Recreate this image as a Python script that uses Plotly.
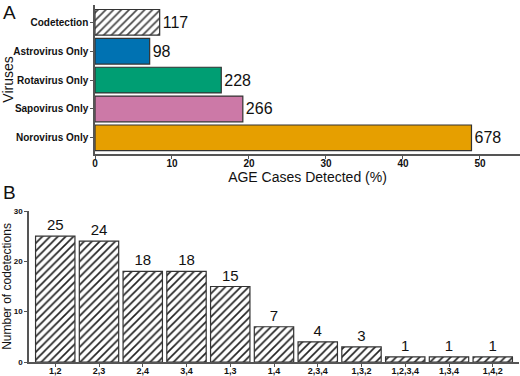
import plotly.graph_objects as go

# Panel A data (bottom to top)
virus_labels = ["Norovirus Only", "Sapovirus Only", "Rotavirus Only", "Astrovirus Only", "Codetection"]
virus_pct = [48.9, 19.2, 16.4, 7.1, 8.4]
virus_counts = [678, 266, 228, 98, 117]
virus_colors = ["#E69F00", "#CC79A7", "#009E73", "#0072B2", "#FFFFFF"]
virus_patterns = ["", "", "", "", "/"]

# Panel B data
combo_labels = ["1,2", "2,3", "2,4", "3,4", "1,3", "1,4", "2,3,4", "1,3,2", "1,2,3,4", "1,3,4", "1,4,2"]
combo_counts = [25, 24, 18, 18, 15, 7, 4, 3, 1, 1, 1]

FONT = "Liberation Sans, Arial, sans-serif"
W, H = 520, 376

fig = go.Figure()
fig.add_trace(go.Bar(
    y=virus_labels, x=virus_pct, orientation="h",
    text=[str(c) for c in virus_counts], textposition="outside",
    textfont=dict(size=16, color="#111", family=FONT),
    cliponaxis=False, width=0.89,
    marker=dict(color=virus_colors, line=dict(color="#333", width=1.2),
                pattern=dict(shape=virus_patterns, fgcolor="#222", bgcolor="white", fgopacity=1,
                             size=5.5, solidity=0.3)),
    xaxis="x", yaxis="y", showlegend=False,
))
fig.add_trace(go.Bar(
    x=combo_labels, y=combo_counts,
    text=[str(c) for c in combo_counts], textposition="outside",
    textfont=dict(size=15, color="#111", family=FONT),
    cliponaxis=False, width=0.9,
    marker=dict(color="white", line=dict(color="#333", width=1.2),
                pattern=dict(shape="/", fgcolor="#222", bgcolor="white", fgopacity=1,
                             size=5.5, solidity=0.3)),
    xaxis="x2", yaxis="y2", showlegend=False,
))

axcommon = dict(showline=True, linecolor="#555", linewidth=1.5, ticks="outside", ticklen=3,
                tickcolor="#555", showgrid=False, zeroline=False, automargin=False)

fig.update_layout(
    width=W, height=H, margin=dict(l=0, r=0, t=0, b=0, autoexpand=False),
    paper_bgcolor="white", plot_bgcolor="white",
    font=dict(family=FONT, color="#111"),
    xaxis=dict(domain=[95 / W, 1], range=[0, 55.2], anchor="y", tickvals=[0, 10, 20, 30, 40, 50],
               tickfont=dict(size=10, weight="bold"), ticklabelstandoff=-4,
               title=dict(text="AGE Cases Detected (%)", font=dict(size=14), standoff=0), **axcommon),
    yaxis=dict(domain=[1 - 154 / H, 1 - 5 / H], range=[-0.56, 4.6], anchor="x",
               categoryorder="array", categoryarray=virus_labels,
               tickfont=dict(size=10, weight="bold"),
               title=dict(text="Viruses", font=dict(size=14), standoff=4), **axcommon),
    xaxis2=dict(domain=[29 / W, 519 / W], range=[-0.6, 10.6], anchor="y2",
                tickfont=dict(size=9, weight="bold"), ticklabelstandoff=-4, **axcommon),
    yaxis2=dict(domain=[1 - 362 / H, 1 - 211 / H], range=[0, 30], anchor="x2",
                tickvals=[0, 10, 20, 30],
                tickfont=dict(size=8, weight="bold"),
                title=dict(text="Number of codetections", font=dict(size=12), standoff=4), **axcommon),
    annotations=[
        dict(text="A", x=0.002, y=1.0, xref="paper", yref="paper", xanchor="left", yanchor="top",
             showarrow=False, font=dict(size=19)),
        dict(text="B", x=0.002, y=1 - 180 / H, xref="paper", yref="paper", xanchor="left", yanchor="top",
             showarrow=False, font=dict(size=19)),
    ],
)

fig.write_html("out.html", config={"displayModeBar": False},
               post_script="document.body.style.margin='0';document.body.style.overflow='hidden';")
